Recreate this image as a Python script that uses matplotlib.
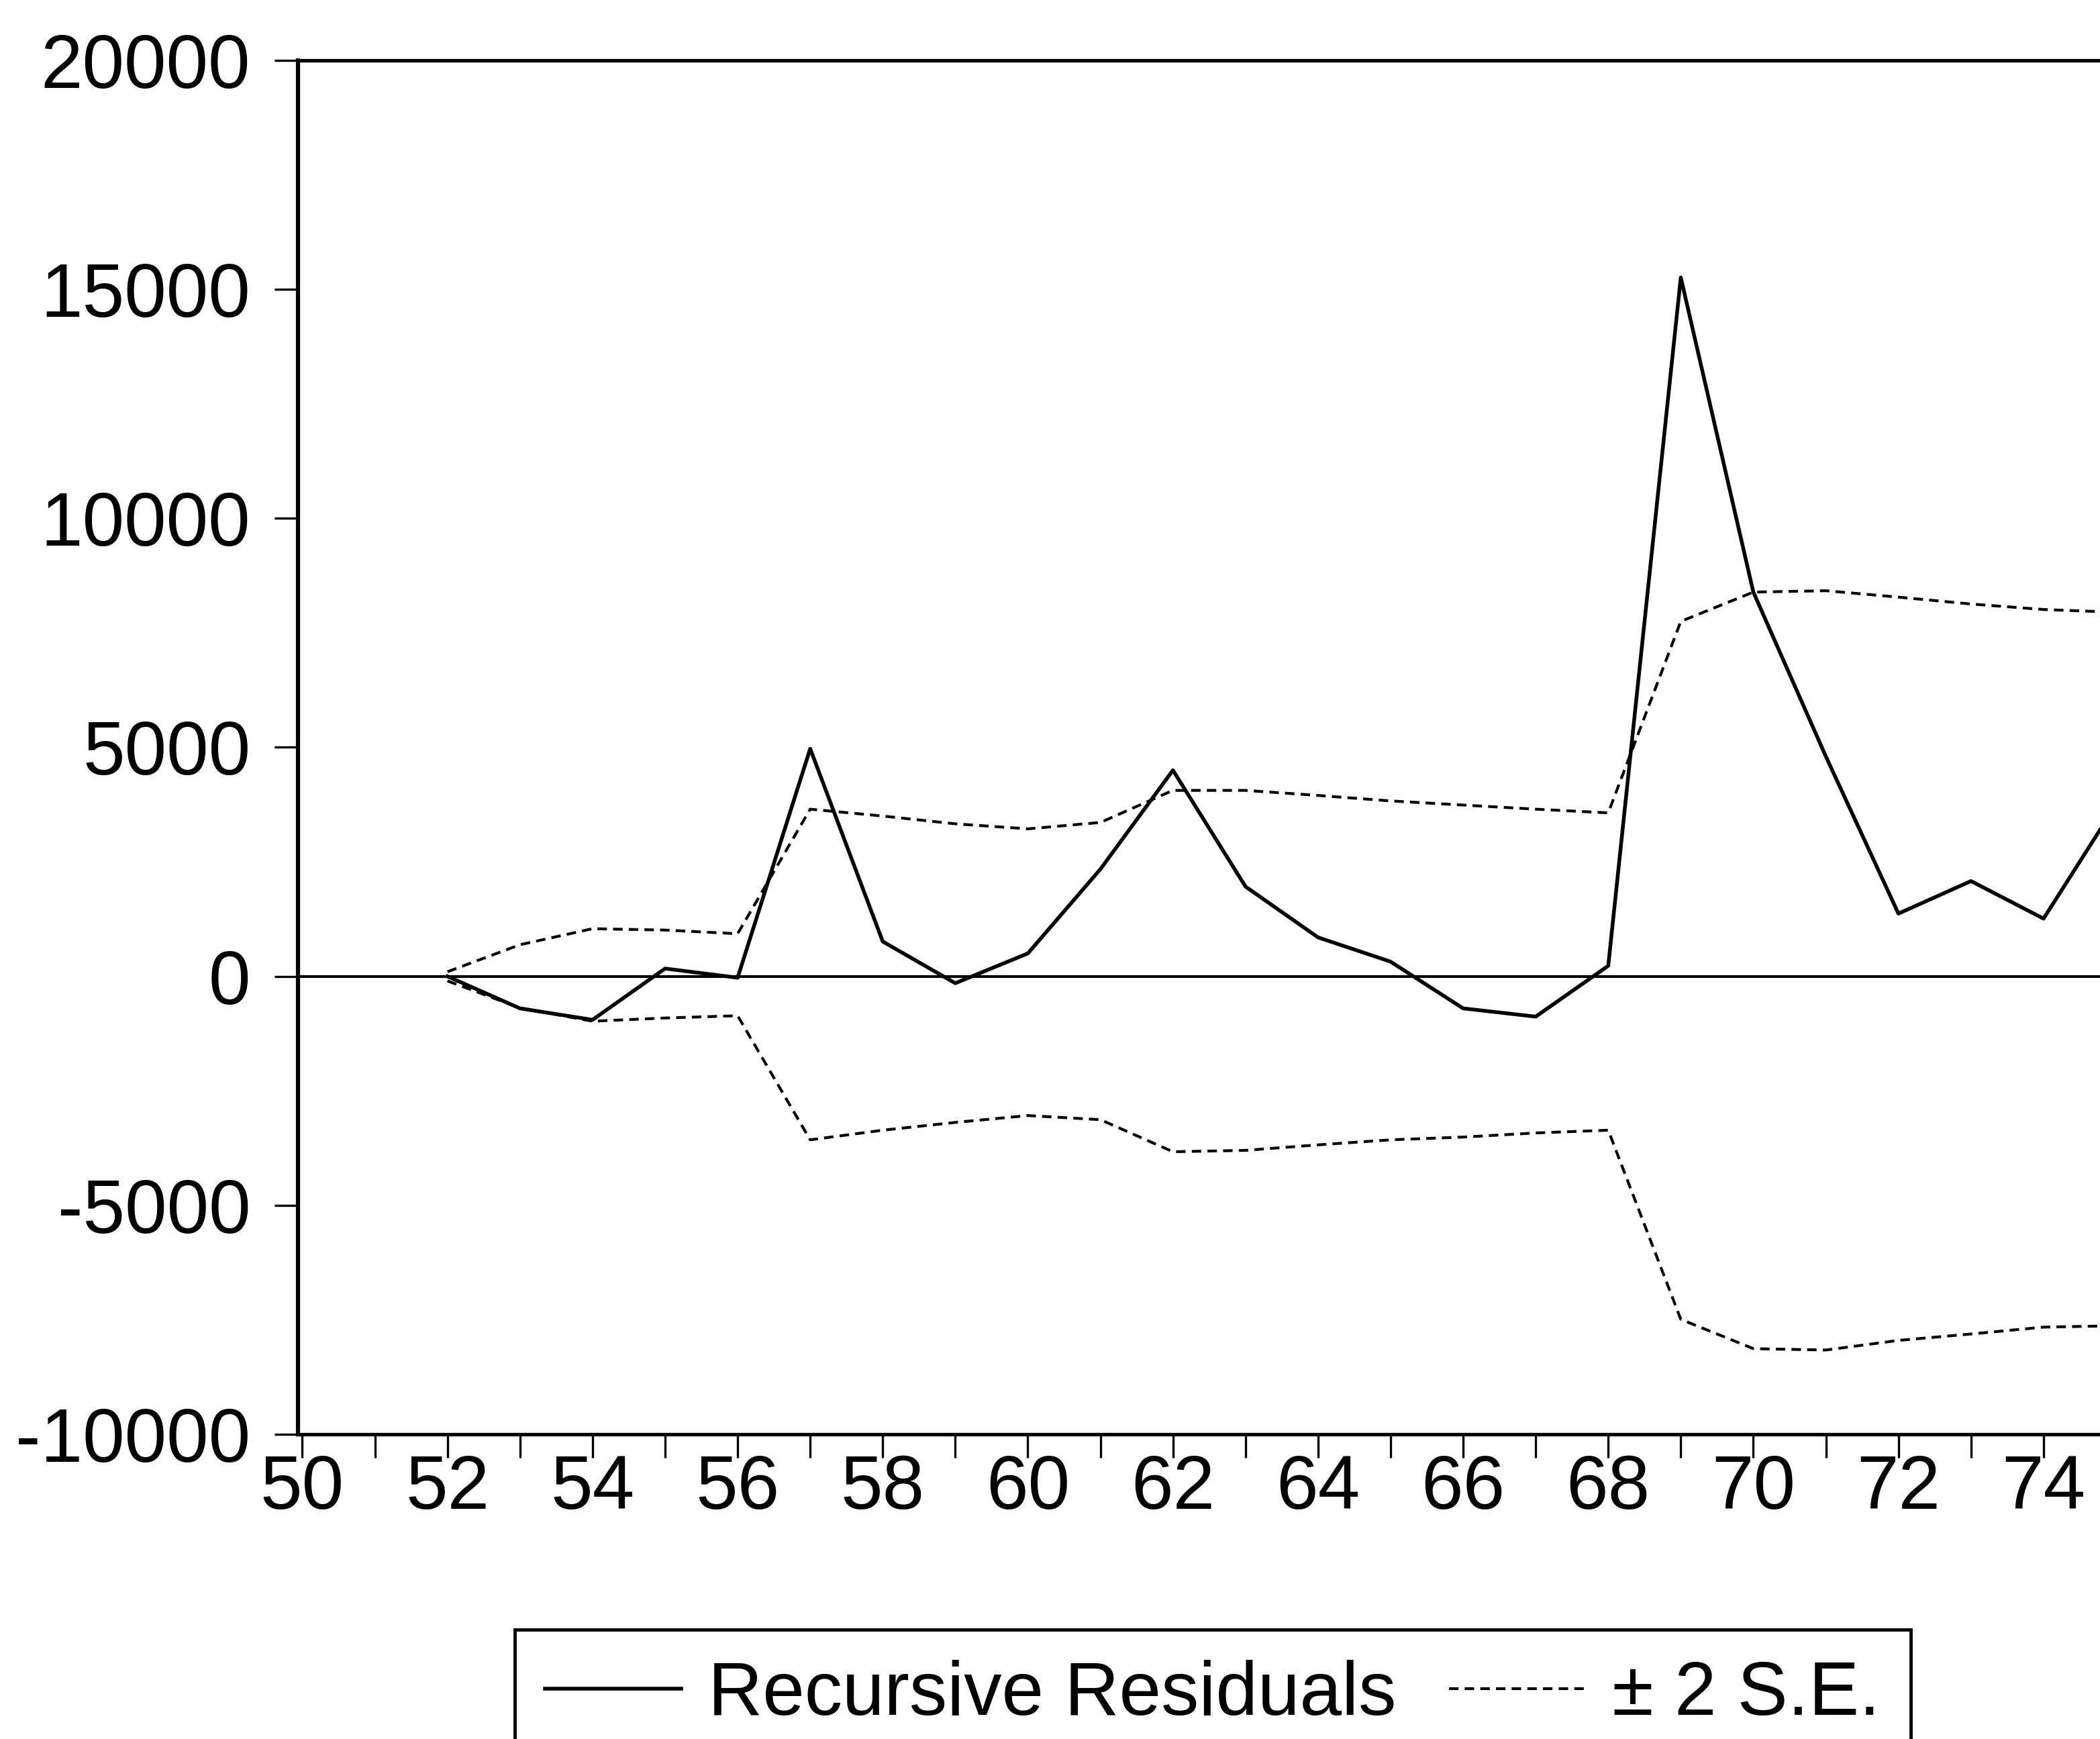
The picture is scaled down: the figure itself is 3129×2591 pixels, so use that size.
import matplotlib
matplotlib.use("Agg")
import matplotlib.pyplot as plt
from matplotlib.ticker import MultipleLocator

years = list(range(52, 76))
residuals = [0, -700, -950, 170, -30, 4970, 760, -150, 500, 2340, 4500, 1960,
             850, 320, -700, -880, 230, 15260, 8390, 4800, 1370, 2080, 1260, 3750]
upper_se = [100, 690, 1040, 1010, 930, 3650, 3500, 3330, 3220, 3360, 4060, 4060,
            3950, 3830, 3740, 3650, 3570, 7750, 8390, 8420, 8280, 8130, 8010, 7950]
lower_se = [-100, -690, -980, -910, -860, -3570, -3360, -3190, -3040, -3130, -3830, -3800,
            -3680, -3570, -3510, -3420, -3360, -7490, -8130, -8160, -7950, -7810, -7660, -7630]

plt.rcParams['font.family'] = ['Liberation Sans', 'DejaVu Sans']
plt.rcParams['axes.unicode_minus'] = False

W, H = 3129, 2591
fig = plt.figure(figsize=(W / 100, H / 100), dpi=100)

x0, x1 = 49.94, 76.0
px_per_year = 108.1
left_px, top_px, bottom_px = 444, 90, 2137
ax = fig.add_axes([left_px / W, 1 - bottom_px / H,
                   (x1 - x0) * px_per_year / W, (bottom_px - top_px) / H])

dash = (0, (3.4, 2.2))
ax.axhline(0, color='black', lw=3, zorder=1)
ax.plot(years, residuals, color='black', lw=4, label='Recursive Residuals', zorder=3)
ax.plot(years, upper_se, color='black', lw=3, linestyle=dash,
        label='± 2 S.E.', zorder=2)
ax.plot(years, lower_se, color='black', lw=3, linestyle=dash, zorder=2)

ax.set_xlim(x0, x1)
ax.set_ylim(-10000, 20000)
ax.xaxis.set_major_locator(MultipleLocator(2))
ax.xaxis.set_minor_locator(MultipleLocator(1))
ax.yaxis.set_major_locator(MultipleLocator(5000))

ax.tick_params(axis='both', which='both', direction='out', length=25, width=2.4,
               labelsize=81, color='black')
ax.tick_params(axis='x', which='major', pad=-4)
ax.tick_params(axis='y', which='major', pad=26)

for side in ['left', 'bottom', 'top', 'right']:
    ax.spines[side].set_linewidth(3.8)
ax.spines['left'].set_linewidth(4.5)

leg = fig.legend(loc='upper left', bbox_to_anchor=(767 / W, 1 - 2428 / H),
                 ncol=2, fontsize=81, frameon=True, fancybox=False,
                 edgecolor='black', framealpha=1, handlelength=1.8,
                 handletextpad=0.36, columnspacing=0.7, borderpad=0.4,
                 borderaxespad=0)
leg.get_frame().set_linewidth(3.5)

fig.savefig('out.png', dpi=100)
